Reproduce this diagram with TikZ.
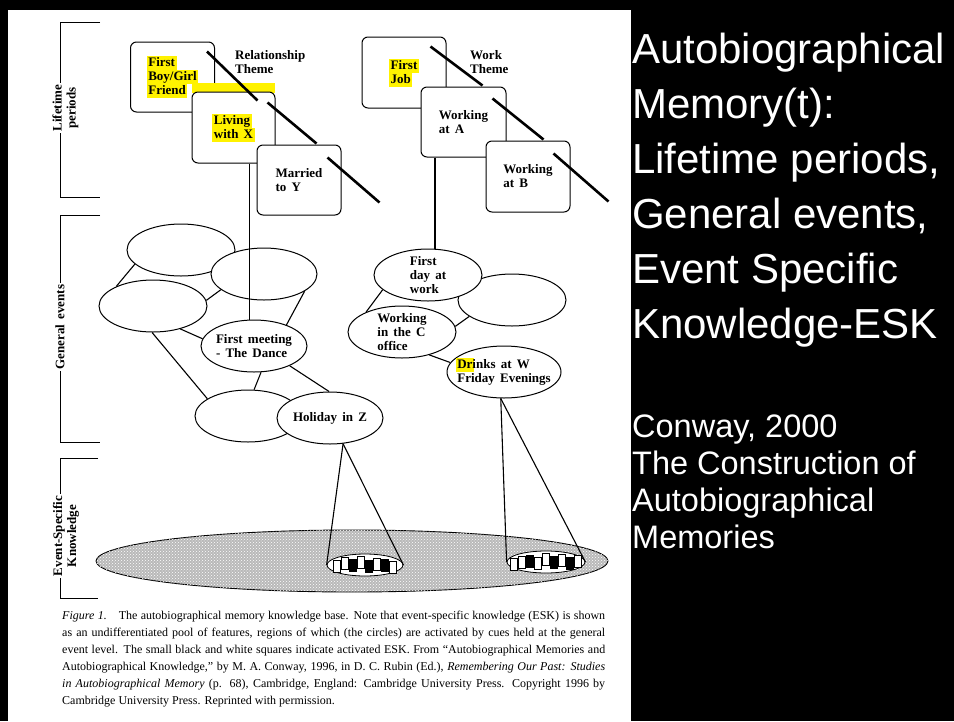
\documentclass[tikz,border=0pt]{standalone}
\usepackage{fontspec}
\setmainfont{Liberation Serif}
\setsansfont{Liberation Sans}
\newfontfamily\figfont{Liberation Serif}[WordSpace=1.6]
\usetikzlibrary{shapes.geometric, patterns}

% yellow marker behind a word, takes no extra room
\newcommand{\hlt}[1]{\setbox0=\hbox{#1}\rlap{\hskip-1.5pt\textcolor{yellow}{\rule[-3.5pt]{\dimexpr\wd0+3pt\relax}{14pt}}}\box0}

\begin{document}
\begin{tikzpicture}[x=1pt, y=-1pt,
  every node/.style={font=\figfont\bfseries\fontsize{13}{14}\selectfont, align=left},
  period/.style={draw, rounded corners=6pt, fill=white, line width=1pt, minimum width=84pt, minimum height=70pt},
  event/.style={draw, ellipse, fill=white, line width=1pt, minimum width=108pt, minimum height=52pt, inner sep=-6pt},
  theme/.style={line width=2.6pt},
  link/.style={line width=1.1pt},
  bracket/.style={line width=1pt},
  sidelabel/.style={rotate=90, fill=white, align=center, inner sep=2pt},
  spot/.style={draw, ellipse, fill=white, line width=0.8pt, inner sep=0pt},
  feature/.style={draw, line width=0.6pt}]

  \useasboundingbox (0,0) rectangle (954,721);
  \fill[black] (0,0) rectangle (954,721);
  \fill[white] (8,10) rectangle (631,721);

  % Brackets
  \draw[bracket] (100,22) -| (60,197) -- (100,197);
  \node[sidelabel] (lplab) at (65.5,108) {Lifetime\\periods};
  \draw[bracket] (100,215) -| (60,442) -- (100,442);
  \node[sidelabel] (gelab) at (60,327) {General events};
  \draw[bracket] (98,458) -| (60,598) -- (98,598);
  \node[sidelabel] (esklab) at (66,536) {Event-Specific\\Knowledge};

  % Lifetime periods
  \node[period] (fbg) at (172.5,77) {\hlt{First}\\\hlt{Boy/Girl}\\\hlt{Friend}};
  \fill[yellow] (192,83) rectangle (275,93);
  \node[period, minimum width=83pt, minimum height=71pt] (liv) at (233.5,127.5) {\hlt{Living}\\\hlt{with X}};
  \node[period] (mar) at (299,180) {Married\\to Y};
  \node[anchor=west, inner sep=0pt] (relth) at (235,62.5) {Relationship\\Theme};

  \node[period, minimum height=71pt] (fjob) at (404,72.5) {\hlt{First}\\\hlt{Job}};
  \node[period, minimum width=85pt] (wka) at (463.5,122) {Working\\at A};
  \node[period, minimum height=71pt] (wkb) at (528,176.5) {Working\\at B};
  \node[anchor=west, inner sep=0pt] (workth) at (470,62.5) {Work\\Theme};

  % Theme lines
  \draw[theme] ([shift={(-8,10)}]fbg.north east) -- ([shift={(-18,9)}]liv.north east);
  \draw[theme] ([shift={(-8,11)}]liv.north east) -- ([shift={(-25,-1)}]mar.north east);
  \draw[theme] ([shift={(-14,13)}]mar.north east) -- ([shift={(38,58)}]mar.north east);
  \draw[theme] ([shift={(-16,10)}]fjob.north east) -- ([shift={(-24,-1)}]wka.north east);
  \draw[theme] ([shift={(-14,12)}]wka.north east) -- ([shift={(-27,-1)}]wkb.north east);
  \draw[theme] ([shift={(-17,13)}]wkb.north east) -- ([shift={(38,61)}]wkb.north east);

  % General events
  \node[event] (ge1) at (181,250) {};
  \node[event, minimum width=106pt] (ge2) at (264,274) {};
  \node[event] (ge3) at (153,306) {};
  \node[event, minimum width=106pt] (meet) at (254,346) {First meeting\\- The Dance};
  \node[event, minimum width=106pt] (ge5) at (248,416) {};
  \node[event, minimum width=106pt] (hol) at (330,418) {Holiday in Z};
  \node[event] (ge6) at (512,300) {};
  \node[event] (fday) at (428,275) {First\\day at\\work};
  \node[event] (wkc) at (402,332) {Working\\in the C\\office};
  \node[event, minimum width=114pt, inner xsep=-12pt] (drinks) at (504,372) {\hlt{Dr}inks at W\\Friday Evenings};

  % Links
  \draw[link] (liv.south -| meet.100) -- (meet.100);
  \draw[link] (wka.south -| fday.75) -- (fday.75);
  \draw[link] (ge1.197) -- (ge3.152);
  \draw[link] (ge3.6) -- (ge2.200);
  \draw[link] (ge2.337) -- (meet.33);
  \draw[link] (ge3.320) -- (meet.172);
  \draw[link] (ge3.268) -- (ge5.157);
  \draw[link] (meet.285) -- (ge5.77);
  \draw[link] (meet.331) -- (hol.92);
  \draw[link] (fday.198) -- (wkc.151);
  \draw[link] (ge6.201) -- (wkc.6);
  \draw[link] (wkc.320) -- (drinks.170);

  % Event-specific knowledge
  \node[draw, ellipse, line width=0.9pt, minimum width=512pt, minimum height=62pt, fill=gray!55, postaction={pattern=crosshatch dots, pattern color=white}] (pool) at (352,561) {};
  \node[spot, minimum width=76pt, minimum height=22pt] (spotz) at (365,565) {};
  \node[spot, minimum width=78pt, minimum height=22pt] (spotw) at (546,562) {};
  \foreach \dx/\dy/\col in {-32/-5/white, -24/-8/white, -16/-6/black, -8/-9/white, 0/-5/black, 8/-7/white, 16/-6/black, 24/-4/white}
    \draw[feature, fill=\col] ([shift={(\dx,\dy)}]spotz.center) rectangle ++(7,12);
  \foreach \dx/\dy/\col in {-36/-4/white, -28/-6/white, -20/-7/black, -12/-5/white, -4/-9/white, 4/-6/black, 12/-8/white, 20/-5/black, 28/-7/white}
    \draw[feature, fill=\col] ([shift={(\dx,\dy)}]spotw.center) rectangle ++(7,12);
  \draw[link] (hol.297) -- (spotz.west);
  \draw[link] (hol.297) -- (spotz.east);
  \draw[link] (drinks.263) -- (spotw.west);
  \draw[link] (drinks.263) -- (spotw.east);

  % Caption
  \node[anchor=north west, inner sep=0pt, text width=543pt, align=justify, font=\rmfamily\fontsize{12}{17}\selectfont] (caption) at (62,611) {\textit{Figure 1.}\quad The autobiographical memory knowledge base. Note that event-specific knowledge (ESK) is shown\linebreak
  as an undifferentiated pool of features, regions of which (the circles) are activated by cues held at the general\linebreak
  event level. The small black and white squares indicate activated ESK. From “Autobiographical Memories and\linebreak
  Autobiographical Knowledge,” by M. A. Conway, 1996, in D. C. Rubin (Ed.), \textit{Remembering Our Past: Studies}\linebreak
  \textit{in Autobiographical Memory} (p. 68), Cambridge, England: Cambridge University Press. Copyright 1996 by\linebreak
  Cambridge University Press. Reprinted with permission.};

  % Right panel
  \node[anchor=base west, inner sep=0pt, text=white, font=\sffamily\fontsize{42}{55}\selectfont] (title) at (632,338) {Autobiographical\\Memory(t):\\Lifetime periods,\\General events,\\Event Specific\\Knowledge-ESK};
  \node[anchor=base west, inner sep=0pt, text=white, font=\sffamily\fontsize{32.5}{37}\selectfont] (source) at (632,548) {Conway, 2000\\The Construction of\\Autobiographical\\Memories};

\end{tikzpicture}
\end{document}
